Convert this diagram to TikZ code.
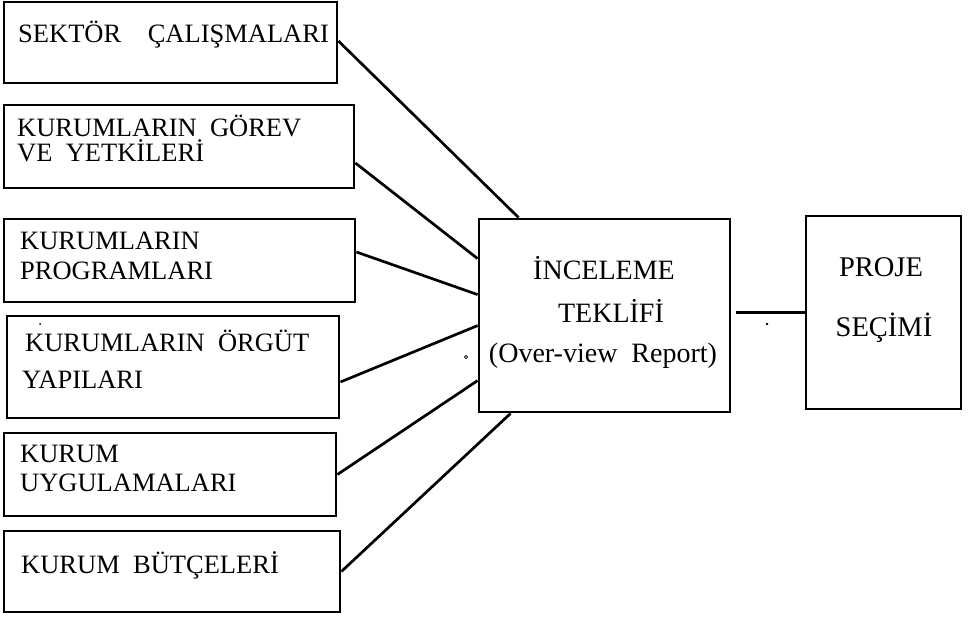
\documentclass[tikz,border=0pt]{standalone}
\usepackage{fontspec}
\setmainfont{Liberation Serif}
\usetikzlibrary{calc}
\begin{document}
\begin{tikzpicture}[x=1pt,y=-1pt,
  box/.style={draw,line width=2.8pt,rectangle,inner sep=0pt},
  link/.style={line width=2.7pt},
  lbl/.style={inner sep=0pt,anchor=base west,font=\fontsize{26.5}{30}\selectfont},
  clbl/.style={inner sep=0pt,anchor=base,font=\fontsize{28}{32}\selectfont},
  rlbl/.style={inner sep=0pt,anchor=base,font=\fontsize{28.5}{32}\selectfont}]
\useasboundingbox (0,0) rectangle (971,617);

% input boxes on the left
\node[box,minimum width=333pt,minimum height=81pt] (b1) at (170.5,42.5) {};
\node[box,minimum width=350pt,minimum height=83pt] (b2) at (179,146.5) {};
\node[box,minimum width=351pt,minimum height=83pt] (b3) at (179.5,260.5) {};
\node[box,minimum width=332pt,minimum height=102pt] (b4) at (173,367) {};
\node[box,minimum width=332pt,minimum height=83pt] (b5) at (170,474.5) {};
\node[box,minimum width=336pt,minimum height=81pt] (b6) at (172,571.5) {};

% central and right boxes
\node[box,minimum width=251pt,minimum height=193pt] (c) at (604.5,315.5) {};
\node[box,minimum width=155pt,minimum height=193pt] (p) at (883.5,312.5) {};

% labels
\node[lbl] (t1) at (18,43) {SEKTÖR\quad ÇALIŞMALARI};
\node[lbl] (t2a) at (17,137) {KURUMLARIN\ \ GÖREV};
\node[lbl] (t2b) at (17,162) {VE\ \ YETKİLERİ};
\node[lbl] (t3a) at (20,250) {KURUMLARIN};
\node[lbl] (t3b) at (20,280) {PROGRAMLARI};
\node[lbl] (t4a) at (25,352) {KURUMLARIN\ \ ÖRGÜT};
\node[lbl] (t4b) at (22,388) {YAPILARI};
\node[lbl] (t5a) at (20,462) {KURUM};
\node[lbl] (t5b) at (20,491) {UYGULAMALARI};
\node[lbl] (t6) at (21,573) {KURUM\ \ BÜTÇELERİ};

\node[clbl] (ca) at (604,280) {İNCELEME};
\node[clbl] (cb) at (611,323) {TEKLİFİ};
\node[clbl] (cc) at (603,362) {(Over-view\ \ Report)};

\node[rlbl] (pa) at (881,277) {PROJE};
\node[rlbl] (pb) at (884,336) {SEÇİMİ};

% connectors into the central box
\draw[link] ([yshift=1.5pt]b1.east) -- ([xshift=41pt]c.north west);
\draw[link] ([yshift=-16.5pt]b2.east) -- ([yshift=-41pt]c.north west);
\draw[link] ([yshift=8.5pt]b3.east) -- ([yshift=-77pt]c.north west);
\draw[link] ([yshift=-15pt]b4.east) -- ([yshift=-108pt]c.north west);
\draw[link] (b5.east) -- ([yshift=-163pt]c.north west);
\draw[link] (b6.east) -- ([xshift=33pt]c.south west);

% connector to the selection box
\coordinate (cout) at ([xshift=5pt]c.east |- p.west);
\draw[link] (cout) -- (p.west);

% small specks
\fill (767,324) circle (1.3pt);
\fill (40,324) circle (1pt);
\draw[line width=0.8pt] (466,357) circle (1.6pt);
\end{tikzpicture}
\end{document}
